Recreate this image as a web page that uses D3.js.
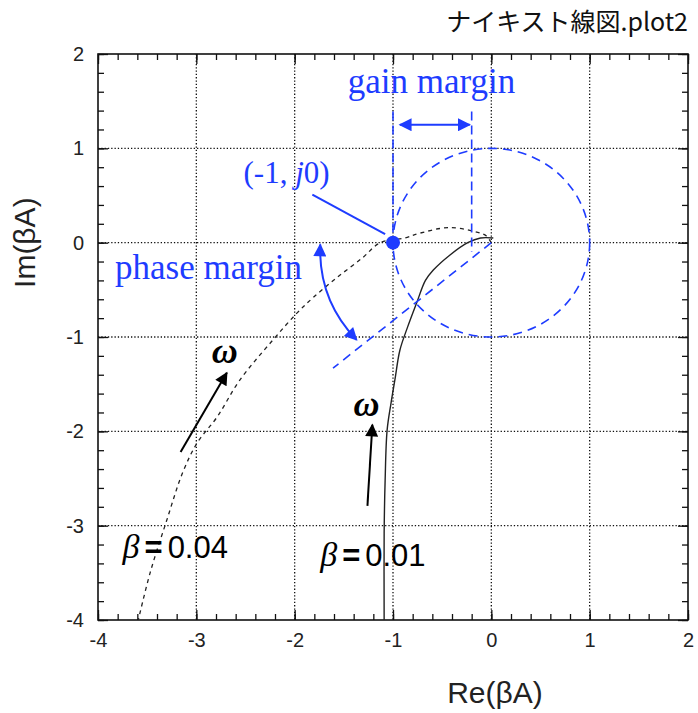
<!DOCTYPE html>
<html>
<head>
<meta charset="utf-8">
<script src="https://cdn.jsdelivr.net/npm/d3@7"></script>
<style>
  body { margin: 0; background: #fff; }
  svg { display: block; }
  .tick text { font-family: "Liberation Sans", Arial, sans-serif; font-size: 20px; fill: #222; }
</style>
</head>
<body>
<div id="chart"></div>
<script>
// axis ticks
var majorTicks = [-4, -3, -2, -1, 0, 1, 2];
var minorTicks = d3.range(-4, 2.001, 0.2);

// beta = 0.01 (solid)
var b001Re = [0.02, -0.11, -0.24, -0.42, -0.59, -0.67, -0.76, -0.85, -0.93, -0.98, -1.02, -1.06, -1.08, -1.09, -1.09];
var b001Im = [0.05, 0.05, 0.0, -0.13, -0.29, -0.40, -0.64, -0.89, -1.14, -1.45, -1.70, -1.99, -2.52, -3.08, -4.0];

// beta = 0.04 (dashed)
var b004Re = [0, -0.05, -0.11, -0.42, -0.73, -0.88, -1.13, -1.31, -1.57, -1.81, -1.98, -2.22, -2.56, -2.79, -2.99, -3.14, -3.30, -3.47, -3.59];
var b004Im = [0, 0.07, 0.10, 0.16, 0.10, 0.05, 0.0, -0.16, -0.37, -0.58, -0.75, -1.03, -1.46, -1.85, -2.12, -2.44, -2.94, -3.50, -4.0];

var blue = "#1e3cff";
var width = 698, height = 713;

var svg = d3.select("#chart").append("svg")
  .attr("width", width).attr("height", height);

var x = d3.scaleLinear().domain([-4, 2]).range([98, 688]);
var y = d3.scaleLinear().domain([-4, 2]).range([620, 54]);

// grid
var grid = svg.append("g");
grid.selectAll("line.gx").data(majorTicks.slice(1, -1)).enter().append("line")
  .attr("x1", function(d){ return x(d); }).attr("x2", function(d){ return x(d); })
  .attr("y1", y(2)).attr("y2", y(-4))
  .attr("stroke", "#111").attr("stroke-width", 1.3).attr("stroke-dasharray", "1.3,2");
grid.selectAll("line.gy").data(majorTicks.slice(1, -1)).enter().append("line")
  .attr("y1", function(d){ return y(d); }).attr("y2", function(d){ return y(d); })
  .attr("x1", x(-4)).attr("x2", x(2))
  .attr("stroke", "#111").attr("stroke-width", 1.3).attr("stroke-dasharray", "1.3,2");

// axes (inward ticks)
function styleAxis(g) {
  g.select(".domain").remove();
  g.selectAll(".tick line").attr("stroke", "#111").attr("stroke-width", 1.3);
}
var fmt = function(d){ return String(d); };
svg.append("g").attr("transform", "translate(0," + y(-4) + ")")
  .call(d3.axisBottom(x).tickValues(majorTicks).tickSize(-10).tickPadding(13).tickFormat(fmt))
  .call(styleAxis);
svg.append("g").attr("transform", "translate(0," + y(-4) + ")")
  .call(d3.axisBottom(x).tickValues(minorTicks).tickSize(-6).tickFormat(""))
  .call(styleAxis);
svg.append("g").attr("transform", "translate(0," + y(2) + ")")
  .call(d3.axisTop(x).tickValues(majorTicks).tickSize(-10).tickFormat(""))
  .call(styleAxis);
svg.append("g").attr("transform", "translate(0," + y(2) + ")")
  .call(d3.axisTop(x).tickValues(minorTicks).tickSize(-6).tickFormat(""))
  .call(styleAxis);
svg.append("g").attr("transform", "translate(" + x(-4) + ",0)")
  .call(d3.axisLeft(y).tickValues(majorTicks).tickSize(-10).tickPadding(14).tickFormat(fmt))
  .call(styleAxis);
svg.append("g").attr("transform", "translate(" + x(-4) + ",0)")
  .call(d3.axisLeft(y).tickValues(minorTicks).tickSize(-6).tickFormat(""))
  .call(styleAxis);
svg.append("g").attr("transform", "translate(" + x(2) + ",0)")
  .call(d3.axisRight(y).tickValues(majorTicks).tickSize(-10).tickFormat(""))
  .call(styleAxis);
svg.append("g").attr("transform", "translate(" + x(2) + ",0)")
  .call(d3.axisRight(y).tickValues(minorTicks).tickSize(-6).tickFormat(""))
  .call(styleAxis);

// frame
svg.append("rect").attr("x", x(-4)).attr("y", y(2))
  .attr("width", x(2) - x(-4)).attr("height", y(-4) - y(2))
  .attr("fill", "none").attr("stroke", "#111").attr("stroke-width", 1.6);

// defs
var defs = svg.append("defs");
function marker(id, color, w, h) {
  defs.append("marker").attr("id", id).attr("viewBox", "0 0 10 10")
    .attr("refX", 9).attr("refY", 5).attr("markerUnits", "userSpaceOnUse")
    .attr("markerWidth", w).attr("markerHeight", h).attr("orient", "auto-start-reverse")
    .append("path").attr("d", "M0,0L10,5L0,10z").attr("fill", color);
}
marker("ablue", blue, 16, 13);
marker("ablack", "#000", 16, 13);

var line = d3.line().x(function(d){ return x(d[0]); }).y(function(d){ return y(d[1]); });
defs.append("clipPath").attr("id", "plotclip").append("rect")
  .attr("x", x(-4)).attr("y", y(2)).attr("width", x(2) - x(-4)).attr("height", y(-4) - y(2));

// curves
svg.append("path").datum(d3.zip(b004Re, b004Im))
  .attr("d", line.curve(d3.curveCatmullRom))
  .attr("fill", "none").attr("stroke", "#222").attr("stroke-width", 1.3)
  .attr("stroke-dasharray", "4,4").attr("clip-path", "url(#plotclip)");
svg.append("path").datum(d3.zip(b001Re, b001Im))
  .attr("d", line.curve(d3.curveCatmullRom))
  .attr("fill", "none").attr("stroke", "#222").attr("stroke-width", 1.4)
  .attr("clip-path", "url(#plotclip)");

// unit circle
svg.append("ellipse").attr("cx", x(0)).attr("cy", y(0))
  .attr("rx", x(1) - x(0)).attr("ry", y(0) - y(1))
  .attr("fill", "none").attr("stroke", blue).attr("stroke-width", 1.6).attr("stroke-dasharray", "9,6");

// gain margin lines
svg.append("line").attr("x1", x(-1)).attr("x2", x(-1)).attr("y1", y(1.39)).attr("y2", y(0))
  .attr("stroke", blue).attr("stroke-width", 1.6).attr("stroke-dasharray", "9,5");
svg.append("line").attr("x1", x(-0.2)).attr("x2", x(-0.2)).attr("y1", y(1.39)).attr("y2", y(-0.1))
  .attr("stroke", blue).attr("stroke-width", 1.6).attr("stroke-dasharray", "9,5");
svg.append("line").attr("x1", x(-0.93)).attr("x2", x(-0.22)).attr("y1", y(1.25)).attr("y2", y(1.25))
  .attr("stroke", blue).attr("stroke-width", 2)
  .attr("marker-start", "url(#ablue)").attr("marker-end", "url(#ablue)");

// phase margin line
svg.append("line").attr("x1", x(0)).attr("y1", y(0)).attr("x2", x(-1.61)).attr("y2", y(-1.33))
  .attr("stroke", blue).attr("stroke-width", 1.6).attr("stroke-dasharray", "9,6");

// phase margin arc arrow
var pa = d3.path();
pa.moveTo(x(-1.74), y(-0.02));
pa.quadraticCurveTo(x(-1.76), y(-0.61), x(-1.37), y(-1.03));
svg.append("path").attr("d", pa.toString()).attr("fill", "none")
  .attr("stroke", blue).attr("stroke-width", 2)
  .attr("marker-start", "url(#ablue)").attr("marker-end", "url(#ablue)");

// (-1, j0) pointer
svg.append("line").attr("x1", x(-1.82)).attr("y1", y(0.51)).attr("x2", x(-1.08)).attr("y2", y(0.09))
  .attr("stroke", blue).attr("stroke-width", 2);
svg.append("circle").attr("cx", x(-1)).attr("cy", y(0)).attr("r", 7).attr("fill", blue);

// omega arrows
svg.append("line").attr("x1", x(-3.16)).attr("y1", y(-2.22)).attr("x2", x(-2.69)).attr("y2", y(-1.38))
  .attr("stroke", "#000").attr("stroke-width", 2).attr("marker-end", "url(#ablack)");
svg.append("line").attr("x1", x(-1.26)).attr("y1", y(-2.79)).attr("x2", x(-1.21)).attr("y2", y(-1.93))
  .attr("stroke", "#000").attr("stroke-width", 2).attr("marker-end", "url(#ablack)");

// texts
var serif = "'Liberation Serif', 'Times New Roman', serif";
var sans = "'Liberation Sans', Arial, sans-serif";

svg.append("text").attr("x", x(-1.46)).attr("y", y(1.59))
  .attr("font-family", serif).attr("font-size", 35).attr("fill", blue).text("gain margin");
svg.append("text").attr("x", 115).attr("y", y(-0.39))
  .attr("font-family", serif).attr("font-size", 35).attr("fill", blue).text("phase margin");
var jt = svg.append("text").attr("x", x(-2.52)).attr("y", y(0.63))
  .attr("font-family", serif).attr("font-size", 31).attr("fill", blue);
jt.append("tspan").text("(-1, ");
jt.append("tspan").attr("font-style", "italic").text("j");
jt.append("tspan").text("0)");

svg.append("text").attr("x", x(-2.71)).attr("y", y(-1.28)).attr("text-anchor", "middle")
  .attr("font-family", serif).attr("font-style", "italic").attr("font-weight", "bold")
  .attr("font-size", 36).text("ω");
svg.append("text").attr("x", x(-1.27)).attr("y", y(-1.84)).attr("text-anchor", "middle")
  .attr("font-family", serif).attr("font-style", "italic").attr("font-weight", "bold")
  .attr("font-size", 36).text("ω");

function betaLabel(xv, yv, val) {
  var t = svg.append("text").attr("x", x(xv)).attr("y", y(yv)).attr("font-size", 31);
  t.append("tspan").attr("font-family", serif).attr("font-style", "italic").attr("font-size", 34).text("β");
  t.append("tspan").attr("font-family", sans).attr("font-weight", "bold").attr("dx", 5).text("=");
  t.append("tspan").attr("font-family", sans).attr("dx", 5).text(val);
}
betaLabel(-3.75, -3.34, "0.04");
betaLabel(-1.74, -3.43, "0.01");

// axis titles
svg.append("text").attr("x", 495).attr("y", 703).attr("text-anchor", "middle")
  .attr("font-family", sans).attr("font-size", 30).attr("fill", "#222").text("Re(βA)");
svg.append("text").attr("transform", "translate(35," + y(0) + ") rotate(-90)").attr("text-anchor", "middle")
  .attr("font-family", sans).attr("font-size", 30).attr("fill", "#222").text("Im(βA)");

// title
svg.append("text").attr("x", 688).attr("y", 31).attr("text-anchor", "end")
  .attr("font-family", "'Noto Sans CJK JP', sans-serif").attr("font-size", 25).attr("fill", "#111")
  .text("ナイキスト線図.plot2");
</script>
</body>
</html>
